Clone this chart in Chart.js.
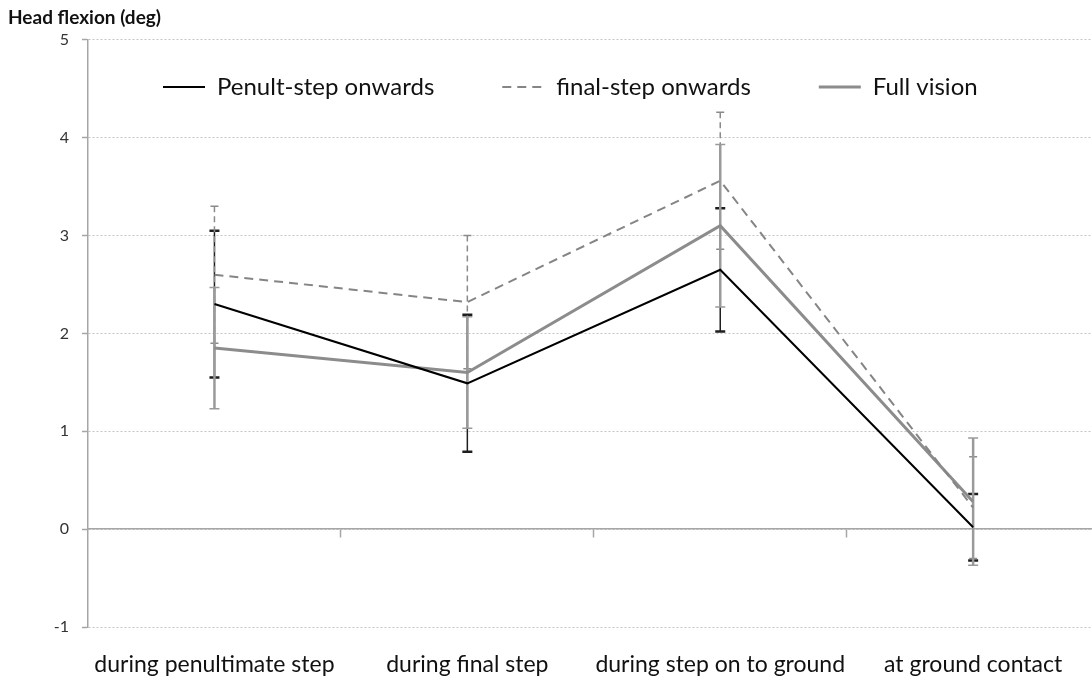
<!DOCTYPE html>
<html>
<head>
<meta charset="utf-8">
<script src="https://cdn.jsdelivr.net/npm/chart.js@4.4.1/dist/chart.umd.min.js"></script>
<style>
html,body{margin:0;padding:0;background:#fff;overflow:hidden}
#wrap{width:1092px;height:680px}
</style>
</head>
<body>
<div id="wrap"><canvas id="c" width="1092" height="680"></canvas></div>
<script>
// ---- data ----
const categories = ['during penultimate step', 'during final step', 'during step on to ground', 'at ground contact'];
const seriesNames = ['Penult-step onwards', 'final-step onwards', 'Full vision'];
const penultValues = [2.30, 1.49, 2.65, 0.02];
const penultErrors = [0.75, 0.70, 0.63, 0.34];
const finalValues = [2.60, 2.32, 3.56, 0.22];
const finalErrors = [0.70, 0.68, 0.70, 0.52];
const fullValues = [1.85, 1.60, 3.10, 0.28];
const fullErrors = [0.62, 0.57, 0.83, 0.65];
const yTicks = [-1, 0, 1, 2, 3, 4, 5];
const boundaryTicks = [0.5, 1.5, 2.5];

const toPoints = vals => vals.map((v, i) => ({x: i, y: v}));

const errorBarPlugin = {
  id: 'errorBars',
  beforeDatasetsDraw(chart) {
    const ctx = chart.ctx, xs = chart.scales.x, ys = chart.scales.y;
    chart.data.datasets.forEach(ds => {
      const st = ds.errStyle;
      ctx.save();
      ctx.strokeStyle = st.color;
      ctx.lineWidth = st.width;
      ds.data.forEach((p, i) => {
        const e = ds.errorBars[i];
        const x = xs.getPixelForValue(p.x);
        const yt = ys.getPixelForValue(p.y + e);
        const yb = ys.getPixelForValue(p.y - e);
        ctx.setLineDash(st.dash);
        ctx.beginPath(); ctx.moveTo(x, yt); ctx.lineTo(x, yb); ctx.stroke();
        ctx.setLineDash([]);
        ctx.lineWidth = st.capWidth;
        ctx.beginPath();
        ctx.moveTo(x - st.cap, yt); ctx.lineTo(x + st.cap, yt);
        ctx.moveTo(x - st.cap, yb); ctx.lineTo(x + st.cap, yb);
        ctx.stroke();
        ctx.lineWidth = st.width;
      });
      ctx.restore();
    });
  }
};

const legendPlacer = {
  id: 'legendPlacer',
  beforeLayout(chart) {
    const lg = chart.legend;
    if (lg && !lg._patched) {
      const orig = lg.fit;
      lg.fit = function () { orig.call(this); this.height = 0; };
      lg._patched = true;
    }
  },
  afterLayout(chart) {
    const lg = chart.legend;
    const pad = lg.options.labels.padding;
    const fs = lg.options.labels.font.size;
    lg.left = 163 - pad;
    lg.right = chart.width;
    lg.top = 87 - pad - fs / 2;
    lg.bottom = lg.top + pad + fs * 2;
    lg.width = lg.right - lg.left;
    lg.height = lg.bottom - lg.top;
  }
};

const chart = new Chart(document.getElementById('c').getContext('2d'), {
  type: 'line',
  data: {
    datasets: [
      {
        label: seriesNames[0], data: toPoints(penultValues), errorBars: penultErrors,
        borderColor: '#000000', borderWidth: 2, pointRadius: 0, tension: 0,
        errStyle: {color: '#1e1e1e', width: 1.5, dash: [], cap: 5, capWidth: 2.5}
      },
      {
        label: seriesNames[1], data: toPoints(finalValues), errorBars: finalErrors,
        borderColor: '#858585', borderWidth: 2, borderDash: [9, 6], pointRadius: 0, tension: 0,
        errStyle: {color: '#8a8a8a', width: 1.5, dash: [6, 4], cap: 4, capWidth: 1.5}
      },
      {
        label: seriesNames[2], data: toPoints(fullValues), errorBars: fullErrors,
        borderColor: '#8c8c8c', borderWidth: 3, pointRadius: 0, tension: 0,
        errStyle: {color: '#9a9a9a', width: 2.5, dash: [], cap: 5, capWidth: 1.5}
      }
    ]
  },
  options: {
    responsive: false,
    animation: false,
    events: [],
    layout: {padding: {left: 8, top: 0, right: 0, bottom: 0}},
    scales: {
      x: {
        type: 'linear', position: 'bottom', min: -0.5, max: 3.47,
        afterBuildTicks: s => { s.ticks = categories.map((_, i) => ({value: i})); },
        ticks: {
          callback: v => categories[v],
          font: {family: 'Lato', size: 23}, color: '#111111', padding: 24,
          maxRotation: 0, autoSkip: false
        },
        grid: {display: false, drawTicks: false},
        border: {display: false},
        afterFit: s => { s.height = 53; }
      },
      x0: {
        type: 'linear', axis: 'x', position: {y: 0}, min: -0.5, max: 3.47,
        afterBuildTicks: s => { s.ticks = boundaryTicks.map(v => ({value: v})); },
        ticks: {display: false},
        grid: {drawOnChartArea: false, drawTicks: true, tickLength: 8, tickColor: '#a6a6a6', tickWidth: 1.5},
        border: {color: '#a6a6a6', width: 1.5}
      },
      y: {
        min: -1, max: 5,
        afterBuildTicks: s => { s.ticks = yTicks.map(v => ({value: v})); },
        ticks: {font: {family: 'Lato', size: 16}, color: '#333333', padding: 13},
        grid: {color: '#c4c4c4', lineWidth: 1, tickLength: 6, tickColor: '#a6a6a6', tickWidth: 1.5, tickBorderDash: []},
        border: {dash: [2, 2], color: '#a6a6a6', width: 1.5},
        afterFit: s => { s.width = 80; }
      }
    },
    plugins: {
      title: {
        display: true, text: 'Head flexion (deg)', align: 'start',
        font: {family: 'Lato', size: 19, weight: 'bold'}, color: '#111111',
        padding: {top: 6, bottom: 11}
      },
      legend: {
        display: true, position: 'top', align: 'start',
        labels: {
          usePointStyle: true, pointStyle: 'line', pointStyleWidth: 42,
          font: {family: 'Lato', size: 24}, color: '#111111', padding: 68,
          generateLabels: chart => Chart.defaults.plugins.legend.labels.generateLabels(chart).map((item, i) => {
            const ds = chart.data.datasets[i];
            item.lineDash = ds.borderDash || [];
            item.lineWidth = ds.borderWidth;
            item.strokeStyle = ds.borderColor;
            return item;
          })
        }
      },
      tooltip: {enabled: false}
    }
  },
  plugins: [errorBarPlugin, legendPlacer]
});
</script>
</body>
</html>
